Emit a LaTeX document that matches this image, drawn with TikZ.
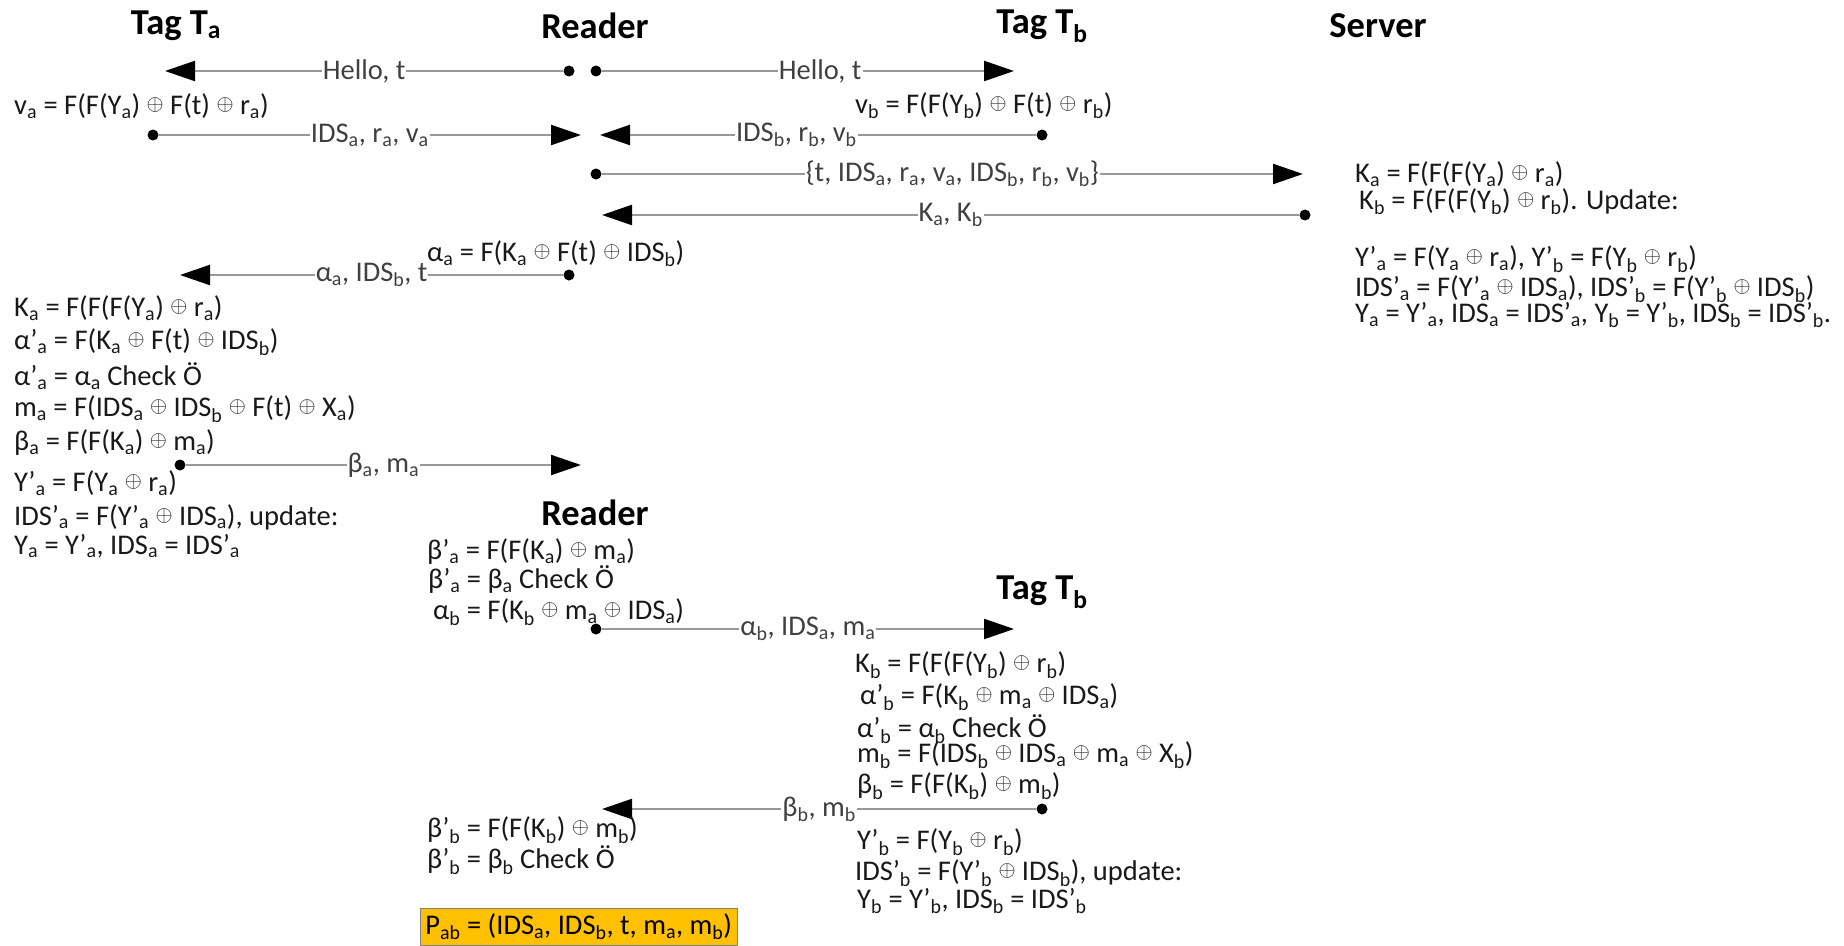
\documentclass[tikz,border=0pt]{standalone}
\usepackage{fontspec}
\setmainfont{Carlito}
\usepackage{graphicx}
\usepackage{tikz}
\usetikzlibrary{arrows.meta, positioning, calc}

\newcommand{\lo}[1]{\textsubscript{#1}}
\newcommand{\xo}{\raisebox{0.3ex}{\scalebox{0.88}{$\oplus$}}}

\begin{document}
\begin{tikzpicture}[
  x=1pt, y=-1pt,
  party/.style={font=\fontsize{36.5}{40}\selectfont\bfseries},
  txt/.style={anchor=west, inner sep=0pt, font=\fontsize{28.5}{32}\selectfont, text=black!90},
  lbl/.style={fill=white, inner sep=1pt, font=\fontsize{28.5}{32}\selectfont, text=black!75},
  dot/.style={circle, fill=black, inner sep=0pt, minimum size=11pt},
  msg/.style={draw=black!40, line width=2.2pt, -{Triangle[length=30pt, width=20pt, color=black]}},
]
\useasboundingbox (0,0) rectangle (1844,945);

% parties
\node[party] (TA)  at (176,26)  {Tag T\lo{a}};
\node[party] (R)   at (595,26)  {Reader};
\node[party] (TB)  at (1042,26) {Tag T\lo{b}};
\node[party] (S)   at (1378,26) {Server};
\node[party] (R2)  at (595,513) {Reader};
\node[party] (TB2) at (1042,592) {Tag T\lo{b}};

% message end points
\node[dot] (d1)  at (569,71)   {};
\coordinate (e1) at (165,71);
\node[dot] (d2)  at (596,71)   {};
\coordinate (e2) at (1014,71);
\node[dot] (d3)  at (153,135)  {};
\coordinate (e3) at (581,135);
\node[dot] (d4)  at (1042,135) {};
\coordinate (e4) at (600,135);
\node[dot] (d5)  at (596,174)  {};
\coordinate (e5) at (1303,174);
\node[dot] (d6)  at (1305,215) {};
\coordinate (e6) at (602,215);
\node[dot] (d7)  at (569,275)  {};
\coordinate (e7) at (180,275);
\node[dot] (d8)  at (180,465)  {};
\coordinate (e8) at (581,465);
\node[dot] (d9)  at (596,629)  {};
\coordinate (e9) at (1014,629);
\node[dot] (d10) at (1042,809) {};
\coordinate (e10) at (602,809);

% messages
\draw[msg] (d1) -- node[lbl] {Hello, t} (e1);
\draw[msg] (d2) -- node[lbl, pos=0.53] {Hello, t} (e2);
\draw[msg] (d3) -- node[lbl] {IDS\lo{a}, r\lo{a}, v\lo{a}} (e3);
\draw[msg] (d4) -- node[lbl, pos=0.55] {IDS\lo{b}, r\lo{b}, v\lo{b}} (e4);
\draw[msg] (d5) -- node[lbl] {\{t, IDS\lo{a}, r\lo{a}, v\lo{a}, IDS\lo{b}, r\lo{b}, v\lo{b}\}} (e5);
\draw[msg] (d6) -- node[lbl] {K\lo{a}, K\lo{b}} (e6);
\draw[msg] (d7) -- node[lbl] {α\lo{a}, IDS\lo{b}, t} (e7);
\draw[msg] (d8) -- node[lbl] {β\lo{a}, m\lo{a}} (e8);
\draw[msg] (d9) -- node[lbl] {α\lo{b}, IDS\lo{a}, m\lo{a}} (e9);
\draw[msg] (d10) -- node[lbl] {β\lo{b}, m\lo{b}} (e10);

% tag a
\node[txt] (vA)   at (14,106) {v\lo{a} = F(F(Y\lo{a}) \xo{} F(t) \xo{} r\lo{a})};
\node[txt] (kA)   at (14,308) {K\lo{a} = F(F(F(Y\lo{a}) \xo{} r\lo{a})};
\node[txt] (alA1) at (14,342) {α'\lo{a} = F(K\lo{a} \xo{} F(t) \xo{} IDS\lo{b})};
\node[txt] (alA2) at (14,376) {α'\lo{a} = α\lo{a} Check Ö};
\node[txt] (mA)   at (14,409) {m\lo{a} = F(IDS\lo{a} \xo{} IDS\lo{b} \xo{} F(t) \xo{} X\lo{a})};
\node[txt] (beA)  at (14,443) {β\lo{a} = F(F(K\lo{a}) \xo{} m\lo{a})};
\node[txt] (yA)   at (14,483) {Y'\lo{a} = F(Y\lo{a} \xo{} r\lo{a})};
\node[txt] (idA)  at (14,517) {IDS'\lo{a} = F(Y'\lo{a} \xo{} IDS\lo{a}), update:};
\node[txt] (upA)  at (14,546) {Y\lo{a} = Y'\lo{a}, IDS\lo{a} = IDS'\lo{a}};

% reader
\node[txt] (alA)  at (427,254) {α\lo{a} = F(K\lo{a} \xo{} F(t) \xo{} IDS\lo{b})};
\node[txt] (beA1) at (427,552) {β'\lo{a} = F(F(K\lo{a}) \xo{} m\lo{a})};
\node[txt] (beA2) at (428,580) {β'\lo{a} = β\lo{a} Check Ö};
\node[txt] (alB)  at (433,612) {α\lo{b} = F(K\lo{b} \xo{} m\lo{a} \xo{} IDS\lo{a})};
\node[txt] (beB1) at (427,830) {β'\lo{b} = F(F(K\lo{b}) \xo{} m\lo{b})};
\node[txt] (beB2) at (427,860) {β'\lo{b} = β\lo{b} Check Ö};
\node[draw=black!50, fill={rgb,255:red,255;green,192;blue,0}, anchor=north west,
      minimum width=317pt, minimum height=37pt, inner sep=0pt,
      font=\fontsize{28.5}{32}\selectfont] (P) at (420,908)
      {P\lo{ab} = (IDS\lo{a}, IDS\lo{b}, t, m\lo{a}, m\lo{b})};

% tag b
\node[txt] (vB)   at (855,106) {v\lo{b} = F(F(Y\lo{b}) \xo{} F(t) \xo{} r\lo{b})};
\node[txt] (kB)   at (855,665) {K\lo{b} = F(F(F(Y\lo{b}) \xo{} r\lo{b})};
\node[txt] (alB1) at (860,697) {α'\lo{b} = F(K\lo{b} \xo{} m\lo{a} \xo{} IDS\lo{a})};
\node[txt] (alB2) at (857,729) {α'\lo{b} = α\lo{b} Check Ö};
\node[txt] (mB)   at (857,755) {m\lo{b} = F(IDS\lo{b} \xo{} IDS\lo{a} \xo{} m\lo{a} \xo{} X\lo{b})};
\node[txt] (beB)  at (857,786) {β\lo{b} = F(F(K\lo{b}) \xo{} m\lo{b})};
\node[txt] (yB)   at (857,842) {Y'\lo{b} = F(Y\lo{b} \xo{} r\lo{b})};
\node[txt] (idB)  at (855,873) {IDS'\lo{b} = F(Y'\lo{b} \xo{} IDS\lo{b}), update:};
\node[txt] (upB)  at (857,901) {Y\lo{b} = Y'\lo{b}, IDS\lo{b} = IDS'\lo{b}};

% server
\node[txt] (kSa)  at (1355,174) {K\lo{a} = F(F(F(Y\lo{a}) \xo{} r\lo{a})};
\node[txt] (kSb)  at (1359,202) {K\lo{b} = F(F(F(Y\lo{b}) \xo{} r\lo{b}). Update:};
\node[txt] (ySv)  at (1355,259) {Y'\lo{a} = F(Y\lo{a} \xo{} r\lo{a}), Y'\lo{b} = F(Y\lo{b} \xo{} r\lo{b})};
\node[txt] (idSv) at (1355,289) {IDS'\lo{a} = F(Y'\lo{a} \xo{} IDS\lo{a}), IDS'\lo{b} = F(Y'\lo{b} \xo{} IDS\lo{b})};
\node[txt] (upSv) at (1355,315) {Y\lo{a} = Y'\lo{a}, IDS\lo{a} = IDS'\lo{a}, Y\lo{b} = Y'\lo{b}, IDS\lo{b} = IDS'\lo{b}.};
\end{tikzpicture}
\end{document}
